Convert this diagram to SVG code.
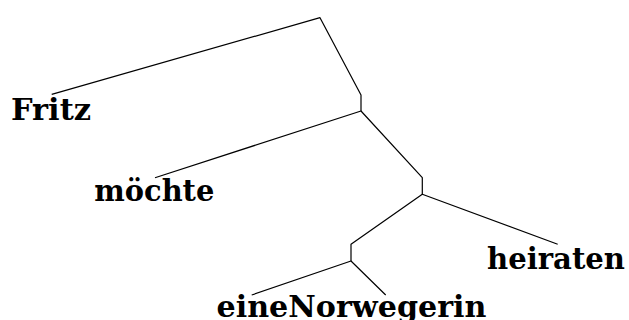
<svg xmlns="http://www.w3.org/2000/svg" width="629" height="320" viewBox="0 0 629 320">
  <style>
    .edge { fill: none; stroke: #000; stroke-width: 1.2; stroke-linejoin: round; }
    .leaf { font-family: "DejaVu Serif", "Liberation Serif", serif; font-weight: bold; font-size: 30px; fill: #000; }
  </style>
  <rect width="629" height="320" fill="#fff"/>
  <g id="connectors">
    <!-- root -->
    <polyline class="edge" points="51.7,94.3 320,17.7 361,95 361,111"/>
    <!-- second level -->
    <polyline class="edge" points="155,177.7 361,111 422.3,177.7 422.3,194.3"/>
    <!-- verb phrase -->
    <polyline class="edge" points="557.7,244.3 422.3,194.3 351,244.3 351,261"/>
    <!-- object -->
    <polyline class="edge" points="251.7,295 351,261 385.7,295"/>
  </g>
  <g id="node-fritz">
    <text class="leaf" x="11" y="119.5" textLength="80" lengthAdjust="spacingAndGlyphs">Fritz</text>
  </g>
  <g id="node-moechte">
    <text class="leaf" x="94.3" y="201" textLength="120" lengthAdjust="spacingAndGlyphs">möchte</text>
  </g>
  <g id="node-heiraten">
    <text class="leaf" x="487" y="269" textLength="138" lengthAdjust="spacingAndGlyphs">heiraten</text>
  </g>
  <g id="node-eineNorwegerin">
    <text class="leaf" x="216.5" y="317" textLength="270" lengthAdjust="spacingAndGlyphs">eineNorwegerin</text>
  </g>
</svg>
